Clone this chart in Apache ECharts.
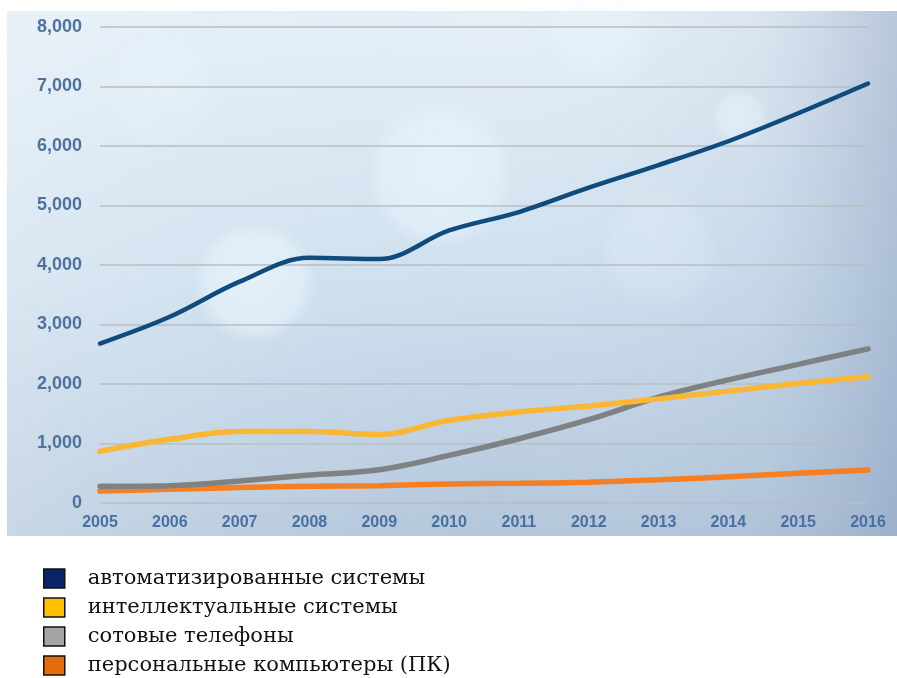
<!DOCTYPE html>
<html>
<head>
<meta charset="utf-8">
<script src="https://cdn.jsdelivr.net/npm/echarts@6/dist/echarts.min.js"></script>
<style>html,body{margin:0;padding:0;background:#fff}#main{width:897px;height:678px}</style>
</head>
<body>
<div id="main"></div>
<script>
const years = ['2005','2006','2007','2008','2009','2010','2011','2012','2013','2014','2015','2016'];
const automated = [2680, 3130, 3720, 4120, 4100, 4580, 4890, 5300, 5680, 6080, 6550, 7050];
const intelligent = [870, 1070, 1200, 1200, 1150, 1390, 1530, 1630, 1750, 1880, 2010, 2120];
const cellPhones = [280, 290, 370, 470, 560, 800, 1080, 1400, 1780, 2070, 2330, 2590];
const pcs = [200, 230, 260, 280, 290, 320, 330, 350, 390, 440, 500, 555];
const seriesNames = ['автоматизированные системы', 'интеллектуальные системы', 'сотовые телефоны', 'персональные компьютеры (ПК)'];
const yTicks = [0, 1000, 2000, 3000, 4000, 5000, 6000, 7000, 8000];

const lineColors = ['#0f4c7d', '#fbb634', '#7f8283', '#f57f22'];
const legendColors = ['#0b2466', '#ffc000', '#a5a5a5', '#e46c0a'];

const chart = echarts.init(document.getElementById('main'));

function bokeh(cx, cy, r, a) {
  return {
    type: 'circle', z: -9, silent: true,
    shape: {cx: cx, cy: cy, r: r},
    style: {fill: {type: 'radial', x: 0.5, y: 0.5, r: 0.5, colorStops: [
      {offset: 0, color: 'rgba(240,250,255,' + a + ')'},
      {offset: 0.75, color: 'rgba(235,248,255,' + (a * 0.8) + ')'},
      {offset: 1, color: 'rgba(235,248,255,0)'}]}}
  };
}

const option = {
  animation: false,
  backgroundColor: '#ffffff',
  graphic: [
    {type: 'rect', z: -10, silent: true, shape: {x: 7, y: 11, width: 890, height: 525},
      style: {fill: {type: 'linear', x: 0, y: 0, x2: 0, y2: 1, colorStops: [
        {offset: 0, color: '#e6eff6'}, {offset: 0.5, color: '#cfe0ee'}, {offset: 1, color: '#b3c6da'}]}}},
    {type: 'rect', z: -10, silent: true, shape: {x: 7, y: 11, width: 890, height: 525},
      style: {fill: {type: 'linear', x: 0, y: 0, x2: 1, y2: 0, colorStops: [
        {offset: 0, color: 'rgba(240,246,250,0.35)'}, {offset: 0.55, color: 'rgba(210,230,245,0)'},
        {offset: 0.85, color: 'rgba(150,170,200,0.15)'}, {offset: 1, color: 'rgba(130,150,185,0.45)'}]}}},
    bokeh(255, 282, 62, 0.6),
    bokeh(440, 175, 75, 0.55),
    bokeh(740, 118, 28, 0.45),
    bokeh(600, 40, 55, 0.3),
    bokeh(160, 90, 60, 0.2),
    bokeh(660, 250, 60, 0.2)
  ],
  grid: {left: 100, right: 29, top: 27, bottom: 175, containLabel: false},
  legend: {
    orient: 'vertical', left: 43, top: 568, height: 120, padding: 0, itemGap: 8, itemWidth: 21, itemHeight: 19,
    icon: 'rect',
    itemStyle: {borderColor: '#111', borderWidth: 1.5},
    textStyle: {fontFamily: '"DejaVu Serif", serif', fontSize: 21, lineHeight: 19, color: '#111', padding: [0, 0, 0, 18]},
    data: seriesNames.map((n, i) => ({name: n, itemStyle: {color: legendColors[i], borderColor: '#111', borderWidth: 1.5}}))
  },
  xAxis: {
    type: 'category', data: years, boundaryGap: false,
    axisLine: {show: false}, axisTick: {show: false},
    axisLabel: {color: '#4a70a2', fontFamily: '"Liberation Sans Narrow", Arial, sans-serif', fontWeight: 'bold', fontSize: 16, margin: 12},
    splitLine: {show: false}
  },
  yAxis: {
    type: 'value', min: 0, max: 8000, interval: 1000,
    axisLine: {show: false}, axisTick: {show: false},
    axisLabel: {color: '#4e729e', fontFamily: 'Arial, "Liberation Sans", sans-serif', fontWeight: 'bold', fontSize: 18, margin: 18,
      formatter: v => yTicks.includes(v) ? v.toLocaleString('en-US') : ''},
    splitLine: {lineStyle: {color: '#b9bec2', width: 1.5}}
  },
  series: [automated, intelligent, cellPhones, pcs].map((d, i) => ({
    name: seriesNames[i], type: 'line', data: d, smooth: 0.35, symbol: 'none',
    lineStyle: {color: lineColors[i], width: i === 0 ? 4.5 : 5.5, cap: 'round'},
    itemStyle: {color: legendColors[i]},
    z: 10 - i
  }))
};
chart.setOption(option);
</script>
</body>
</html>
